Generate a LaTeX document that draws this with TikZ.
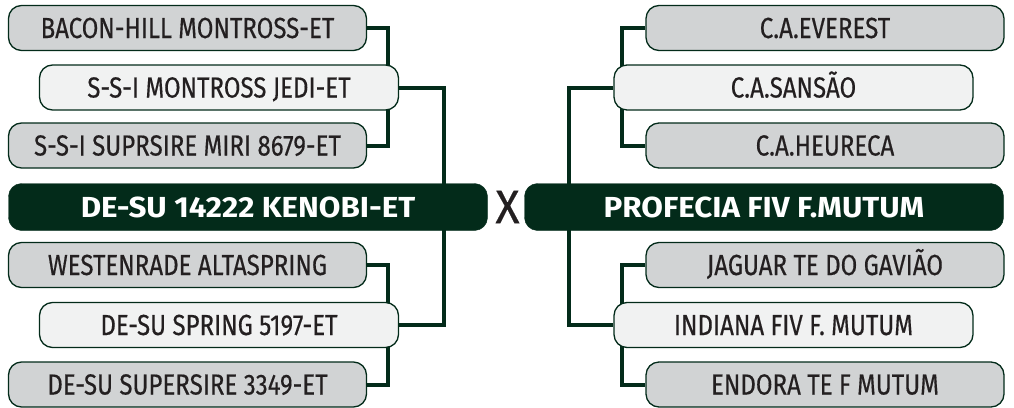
\documentclass[tikz,border=0pt]{standalone}
\usepackage{fontspec}
\setmainfont{Fira Sans}
\newfontfamily\sirefont{Fira Sans}[FakeStretch=0.83, FakeBold=0.4]
\newfontfamily\bullfont{Fira Sans}[FakeStretch=1.08]
\newfontfamily\vsfont{Fira Sans}[FakeStretch=0.95, FakeBold=0.5]
\usepackage{tikz}
\usetikzlibrary{backgrounds}

\definecolor{bulldark}{HTML}{032B1A}
\definecolor{boxgray}{HTML}{D1D3D4}
\definecolor{boxlight}{HTML}{F1F2F2}
\definecolor{ink}{HTML}{231F20}

\begin{document}
\begin{tikzpicture}[x=1pt, y=1pt,
    sire/.style={draw=bulldark, line width=1.3pt, rounded corners=13pt, inner sep=0pt,
      minimum height=45pt, text height=20pt, text depth=0pt, text=ink,
      font=\fontsize{29}{29}\sirefont},
    gsire/.style={sire, fill=boxgray, minimum width=358pt},
    lsire/.style={sire, fill=boxlight, minimum width=359pt},
    bull/.style={draw=bulldark, fill=bulldark, rounded corners=13pt, inner sep=0pt,
      minimum width=479pt, minimum height=47pt, text height=20pt, text depth=0pt,
      text=white, font=\fontsize{29}{29}\bullfont\bfseries},
    link/.style={draw=bulldark, line width=4pt}]
  \useasboundingbox (0,0) rectangle (1014,-407);
  % left side
  \node[gsire] (lbacon) at (187.5,-28) {BACON-HILL MONTROSS-ET};
  \node[lsire] (ljedi) at (219,-87.5) {S-S-I MONTROSS JEDI-ET};
  \node[gsire] (lmiri) at (187.5,-145.5) {S-S-I SUPRSIRE MIRI 8679-ET};
  \node[bull] (lmain) at (248,-207) {DE-SU 14222 KENOBI-ET};
  \node[gsire] (lwesten) at (187.5,-265) {WESTENRADE ALTASPRING};
  \node[lsire] (lspring) at (219,-325) {DE-SU SPRING 5197-ET};
  \node[gsire] (lsuper) at (187.5,-384.5) {DE-SU SUPERSIRE 3349-ET};
  % right side
  \node[gsire] (reverest) at (825,-28) {C.A.EVEREST};
  \node[lsire] (rsansao) at (793.5,-87.5) {C.A.SANSÃO};
  \node[gsire] (rheureca) at (825,-145.5) {C.A.HEURECA};
  \node[bull] (rmain) at (764,-207) {PROFECIA FIV F.MUTUM};
  \node[gsire] (rjaguar) at (825,-265) {JAGUAR TE DO GAVIÃO};
  \node[lsire] (rindiana) at (793.5,-325) {INDIANA FIV F. MUTUM};
  \node[gsire] (rendora) at (825,-384.5) {ENDORA TE F MUTUM};
  \node[text=ink, font=\fontsize{47}{47}\vsfont] (vs) at (507.5,-207) {X};
  % connectors
  \begin{scope}[on background layer]
    \draw[link] (lbacon.east) -- ++(21,0) |- (lmiri.east);
    \draw[link] (ljedi.east) -- ++(45,0) |- (lspring.east);
    \draw[link] (lwesten.east) -- ++(21,0) |- (lsuper.east);
    \draw[link] (reverest.west) -- ++(-23,0) |- (rheureca.west);
    \draw[link] (rsansao.west) -- ++(-44,0) |- (rindiana.west);
    \draw[link] (rjaguar.west) -- ++(-23,0) |- (rendora.west);
  \end{scope}
\end{tikzpicture}
\end{document}
